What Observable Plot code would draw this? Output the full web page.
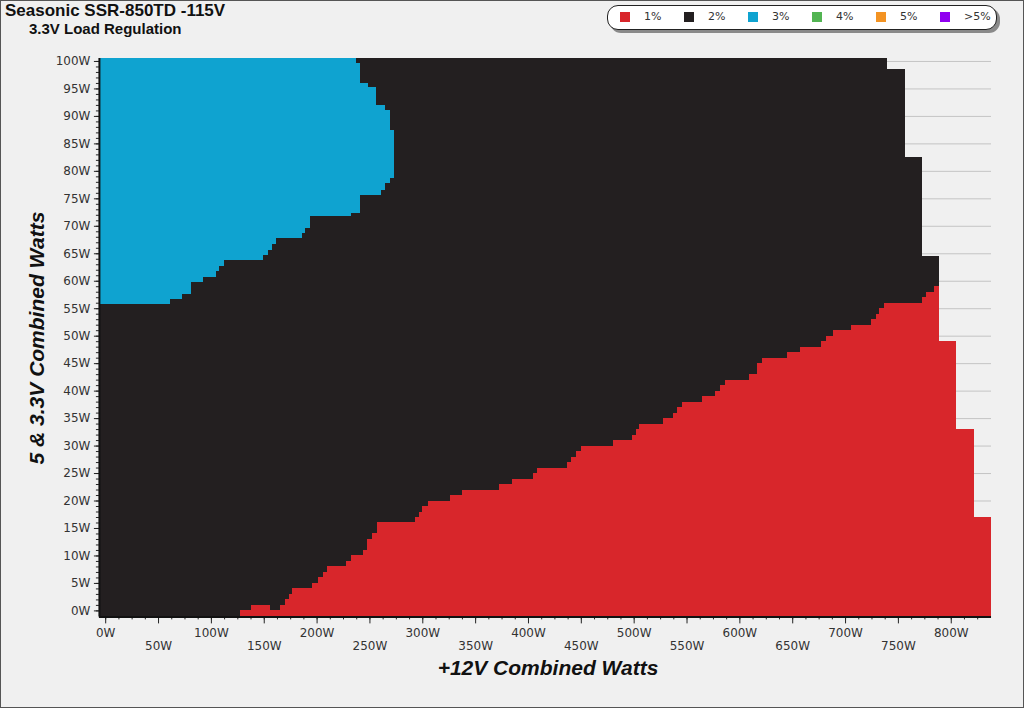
<!DOCTYPE html>
<html>
<head>
<meta charset="utf-8">
<script src="https://cdn.jsdelivr.net/npm/d3@7"></script>
<script src="https://cdn.jsdelivr.net/npm/@observablehq/plot@0.6"></script>
<style>
  html, body { margin: 0; padding: 0; background: #f0f0f0; }
  #page { position: relative; width: 1024px; height: 708px; box-sizing: border-box; border: 1px solid #555; overflow: hidden; background: #f0f0f0; }
  #chart { position: absolute; left: -1px; top: -1px; }
  .t { position: absolute; margin: 0; line-height: 1; white-space: nowrap; font-family: "Liberation Sans", Arial, sans-serif; font-weight: bold; color: #111; }
  #legend { position: absolute; left: 606px; top: 4px; width: 388px; height: 23px; background: #fff; border: 1.5px solid #222; border-radius: 11px; box-shadow: 3px 3px 0 #8a8a8a; }
  .sw { position: absolute; top: 6px; width: 10px; height: 10px; }
  .lb { position: absolute; top: 5px; font-family: "DejaVu Sans", Verdana, sans-serif; font-size: 11px; line-height: 1; color: #333; }
</style>
</head>
<body>
<div id="page">
  <div id="chart"></div>
  <div class="t" style="left:4px; top:3px; font-size:17px; line-height:0.8;">Seasonic SSR-850TD -115V</div>
  <div class="t" style="left:28px; top:22px; font-size:15px; line-height:0.8;">3.3V Load Regulation</div>
  <div id="legend"></div>
  <div class="t" style="left:547px; top:656px; font-size:21px; font-style:italic; transform:translateX(-50%);">+12V Combined Watts</div>
  <div class="t" style="left:35px; top:337px; font-size:21px; font-style:italic; transform:translate(-50%,-50%) rotate(-90deg);">5 &amp; 3.3V Combined Watts</div>
</div>
<script>
// ---- legend ----
const legendLabels = ["1%", "2%", "3%", "4%", "5%", ">5%"];
const legendColors = ["#d8262b", "#231f20", "#0fa3d0", "#52b452", "#f39323", "#9000f0"];

// ---- axes ----
const xDomain = [-5.95, 838.1];
const yDomain = [-1.09, 100.55];
const xTicksRow1 = [0, 100, 200, 300, 400, 500, 600, 700, 800];
const xTicksRow2 = [50, 150, 250, 350, 450, 550, 650, 750];
const yTicks = [0, 5, 10, 15, 20, 25, 30, 35, 40, 45, 50, 55, 60, 65, 70, 75, 80, 85, 90, 95, 100];

// ---- 2% region (black): row bottoms (W on 5&3.3V) and right edge (W on +12V) ----
const blackY0 = [-1.09, 64.5, 82.5, 98.6];
const blackX = [789, 772.8, 756.8, 739.8];

// ---- 1% region (red): column left edges (W on +12V) and top (W on 5&3.3V) ----
const redX = [128, 138, 156, 165, 170, 174, 177, 196, 201, 206, 210, 228, 233, 244, 248, 252, 257,
  293, 297, 300, 305, 326, 338, 373, 385, 405, 409, 437, 441, 445, 450, 480, 498, 502, 505,
  528, 537, 541, 546, 565, 577, 582, 586, 609, 617, 621, 645, 657, 677, 682, 689, 706, 725,
  729, 732, 737, 773, 777, 784, 789, 805, 822];
const redTop = [0, 1, 0, 1, 2, 3, 4, 5, 6, 7, 8, 9, 10, 11, 13, 14, 16,
  17, 18, 19, 20, 21, 22, 23, 24, 25, 26, 27, 28, 29, 30, 31, 32, 33, 34,
  35, 36, 37, 38, 39, 40, 41, 42, 43, 45, 46, 47, 48, 49, 50, 51, 52, 53,
  54, 55, 56, 57, 58, 59, 49, 33, 17];
const redEnd = 838.1;

// ---- 3% region (blue): row bottoms (W on 5&3.3V) and right edge (W on +12V) ----
const blueY0 = [55.8, 56.7, 57.6, 59.7, 60.6, 61.7, 62.7, 63.7, 64.7, 65.6, 66.7, 67.8, 68.7,
  69.6, 71.7, 72.3, 75.6, 76.5, 77.8, 78.7, 87.5, 91.1, 92.0, 95.3, 95.9, 99.6];
const blueX = [61, 73, 81, 93, 105, 108, 112, 149, 154, 158, 162, 186, 189,
  194, 233, 241, 261, 265, 269, 273, 269, 265, 256.5, 248.6, 241, 237];

// legend build
const legend = document.getElementById("legend");
legendLabels.forEach((lab, i) => {
  const sw = document.createElement("div");
  sw.className = "sw";
  sw.style.left = (12 + 64 * i) + "px";
  sw.style.background = legendColors[i];
  legend.appendChild(sw);
  const lb = document.createElement("div");
  lb.className = "lb";
  lb.style.left = (36 + 64 * i) + "px";
  lb.textContent = lab;
  legend.appendChild(lb);
});

const yTop = yDomain[1];
const xLeft = xDomain[0];
const blackRows = blackY0.map((y, i) => ({ y1: y, y2: blackY0[i + 1] ?? yTop, x2: blackX[i] }));
const redCols = redX.map((x, i) => ({ x1: x, x2: redX[i + 1] ?? redEnd, y2: redTop[i] }));
const blueRows = blueY0.map((y, i) => ({ y1: y, y2: blueY0[i + 1] ?? yTop, x2: blueX[i] }));

const xMinor = d3.range(0, 826, 12.5);
const yMinor = d3.range(0, 101, 1);

const chart = Plot.plot({
  width: 1024,
  height: 708,
  marginLeft: 99,
  marginRight: 32,
  marginTop: 58,
  marginBottom: 91,
  x: { domain: xDomain },
  y: { domain: yDomain },
  style: { background: "transparent", color: "#222", fontFamily: "'DejaVu Sans', Verdana, sans-serif", fontSize: "12px" },
  marks: [
    Plot.ruleY(yTicks, { x1: xDomain[0], x2: xDomain[1], stroke: "#c4c4c4", strokeWidth: 1 }),
    Plot.rect(blackRows, { x1: () => xLeft, x2: "x2", y1: "y1", y2: "y2", fill: legendColors[1], shapeRendering: "crispEdges" }),
    Plot.rect(redCols, { x1: "x1", x2: "x2", y1: () => yDomain[0], y2: "y2", fill: legendColors[0], shapeRendering: "crispEdges" }),
    Plot.rect(blueRows, { x1: () => xLeft, x2: "x2", y1: "y1", y2: "y2", fill: legendColors[2], shapeRendering: "crispEdges" }),
    Plot.axisY({ ticks: yMinor, tickSize: 3, tickFormat: () => "" }),
    Plot.axisY({ ticks: yTicks, tickSize: 5, tickPadding: 4, tickFormat: d => `${d}W`, fill: "#333" }),
    Plot.axisX({ ticks: xMinor, tickSize: 3, tickFormat: () => "" }),
    Plot.axisX({ ticks: xTicksRow1, tickSize: 7, tickPadding: 5, tickFormat: d => `${d}W`, fill: "#333" }),
    Plot.axisX({ ticks: xTicksRow2, tickSize: 7, tickPadding: 18, tickFormat: d => `${d}W`, fill: "#333" }),
    Plot.ruleX([xDomain[0]], { y1: yDomain[0], y2: yDomain[1], stroke: "#111", strokeWidth: 2 }),
    Plot.ruleY([yDomain[0]], { x1: xDomain[0], x2: xDomain[1], stroke: "#111", strokeWidth: 2 })
  ]
});
document.getElementById("chart").appendChild(chart);
</script>
</body>
</html>
